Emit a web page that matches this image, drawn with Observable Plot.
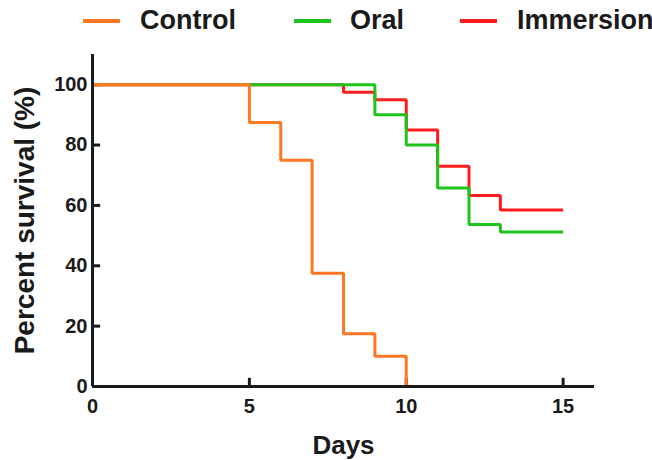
<!DOCTYPE html>
<html>
<head>
<meta charset="utf-8">
<script src="https://cdn.jsdelivr.net/npm/d3@7"></script>
<script src="https://cdn.jsdelivr.net/npm/@observablehq/plot@0.6"></script>
<style>
  html, body { margin: 0; padding: 0; background: #fff; }
  body { width: 652px; height: 460px; overflow: hidden; font-family: "Liberation Sans", Arial, sans-serif; }
  #legend { position: relative; width: 652px; height: 40px; }
  #legend .sw { position: absolute; height: 4px; top: 19px; }
  #legend .lb { position: absolute; top: 7px; font-size: 27px; line-height: 27px; font-weight: bold; color: #1a1a1a; white-space: nowrap; }
  #chart svg { display: block; overflow: visible; }
</style>
</head>
<body>
<div id="legend"></div>
<div id="chart"></div>
<script>
// Data (Kaplan–Meier style step curves)
const groups = ["Control", "Oral", "Immersion"];
const colors = ["#ff7722", "#1cc41c", "#ff1c1c"];

const controlDays = [0, 5, 6, 7, 8, 9, 10];
const controlSurvival = [100, 87.5, 75, 37.5, 17.5, 10, 0];

const oralDays = [0, 9, 10, 11, 12, 13, 15];
const oralSurvival = [100, 90, 80, 65.8, 53.7, 51.2, 51.2];

const immersionDays = [0, 8, 9, 10, 11, 12, 13, 15];
const immersionSurvival = [100, 97.5, 95, 85, 73, 63.3, 58.5, 58.5];

const xTicks = [0, 5, 10, 15];
const yTicks = [0, 20, 40, 60, 80, 100];

const toRows = (name, days, surv) => days.map((d, i) => ({group: name, day: d, survival: surv[i]}));
const control = toRows("Control", controlDays, controlSurvival);
const oral = toRows("Oral", oralDays, oralSurvival);
const immersion = toRows("Immersion", immersionDays, immersionSurvival);

// Legend (HTML, above the SVG)
const legendPos = [{sw: 83, lb: 140}, {sw: 294, lb: 350}, {sw: 460, lb: 517}];
const legend = document.getElementById("legend");
groups.forEach((g, i) => {
  const s = document.createElement("div");
  s.className = "sw";
  s.style.left = legendPos[i].sw + "px";
  s.style.width = "37px";
  s.style.background = colors[i];
  legend.appendChild(s);
  const t = document.createElement("div");
  t.className = "lb";
  t.style.left = legendPos[i].lb + "px";
  t.textContent = g;
  legend.appendChild(t);
});

const axisColor = "#1a1a1a";
const font = "'Liberation Sans', Arial, sans-serif";
const stepLine = {x: "day", y: "survival", stroke: "group", curve: "step-after", strokeWidth: 3, strokeLinejoin: "miter", strokeLinecap: "butt"};

// inward tick length, in each axis' data units (~8px)
const yTickLen = 0.26;  // days
const xTickLen = 2.7;   // percent

const chart = Plot.plot({
  width: 652,
  height: 420,
  marginTop: 14,
  marginBottom: 74,
  marginLeft: 92,
  marginRight: 58,
  style: {fontFamily: font, color: axisColor, background: "#fff"},
  x: {domain: [0, 16]},
  y: {domain: [0, 110]},
  color: {domain: groups, range: colors},
  marks: [
    // inward ticks
    Plot.ruleY(yTicks, {y: d => d, x1: 0, x2: yTickLen, stroke: axisColor, strokeWidth: 3}),
    Plot.ruleX(xTicks, {x: d => d, y1: 0, y2: xTickLen, stroke: axisColor, strokeWidth: 3}),
    // survival curves
    Plot.line(immersion, stepLine),
    Plot.line(oral, stepLine),
    Plot.line(control, stepLine),
    // axis lines
    Plot.ruleX([0], {stroke: axisColor, strokeWidth: 3}),
    Plot.ruleY([0], {stroke: axisColor, strokeWidth: 3}),
    Plot.axisY({ticks: yTicks, tickSize: 0, tickPadding: 5, fontSize: 20, fontWeight: "bold", label: null}),
    Plot.axisX({ticks: xTicks, tickSize: 0, tickPadding: 12, fontSize: 20, fontWeight: "bold", label: null}),
    // axis titles
    Plot.text(["Percent survival (%)"], {frameAnchor: "left", dx: -67, rotate: -90, textAnchor: "middle", lineAnchor: "middle", text: d => d, fontSize: 28, fontWeight: "bold", fill: axisColor}),
    Plot.text(["Days"], {frameAnchor: "bottom", dy: 59, textAnchor: "middle", lineAnchor: "middle", text: d => d, fontSize: 26, fontWeight: "bold", fill: axisColor})
  ]
});
document.getElementById("chart").appendChild(chart);
</script>
</body>
</html>
